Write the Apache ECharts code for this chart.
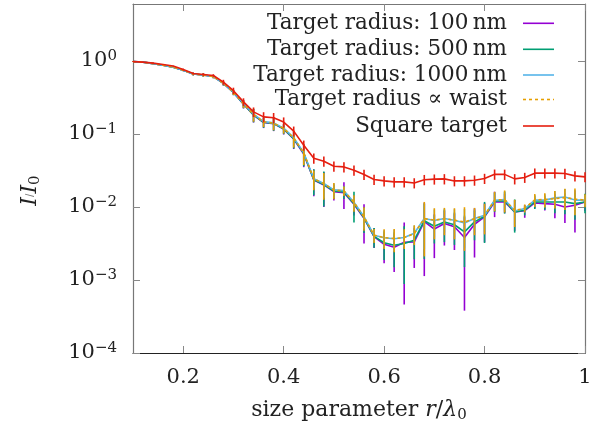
<!DOCTYPE html>
<html>
<head>
<meta charset="utf-8">
<script src="https://cdn.jsdelivr.net/npm/echarts@6/dist/echarts.min.js"></script>
<style>
html, body { margin: 0; padding: 0; background: #fff; }
#chart { width: 601px; height: 433px; }
</style>
</head>
<body>
<div id="chart"></div>
<script>
// size parameter r / lambda0
const sizeParam = [
  0.10, 0.12, 0.14, 0.16, 0.18, 0.20, 0.22, 0.24, 0.26, 0.28,
  0.30, 0.32, 0.34, 0.36, 0.38, 0.40, 0.42, 0.44, 0.46, 0.48,
  0.50, 0.52, 0.54, 0.56, 0.58, 0.60, 0.62, 0.64, 0.66, 0.68,
  0.70, 0.72, 0.74, 0.76, 0.78, 0.80, 0.82, 0.84, 0.86, 0.88,
  0.90, 0.92, 0.94, 0.96, 0.98, 1.00
]

// I / I0 for each target, with its error
const r100 = [
  0.975, 0.96, 0.915, 0.87, 0.82, 0.745, 0.66, 0.64, 0.61, 0.49,
  0.37, 0.255, 0.181, 0.143, 0.138, 0.116, 0.085, 0.053, 0.0233, 0.0200,
  0.0162, 0.0156, 0.0109, 0.0070, 0.00392, 0.00308, 0.00281, 0.00328, 0.00332, 0.00627,
  0.00498, 0.00593, 0.00535, 0.00381, 0.00579, 0.0073, 0.0117, 0.0117, 0.00855, 0.00887,
  0.01135, 0.0111, 0.0109, 0.0100, 0.01055, 0.0117
]
const r100Err = [
  0.010, 0.010, 0.0095, 0.018, 0.017, 0.023, 0.028, 0.034, 0.032, 0.031,
  0.031, 0.032, 0.038, 0.023, 0.029, 0.018, 0.023, 0.018, 0.0093, 0.0100,
  0.0040, 0.0062, 0.0033, 0.00385, 0.00118, 0.00139, 0.00152, 0.00282, 0.00186, 0.00514,
  0.00299, 0.00297, 0.00278, 0.00343, 0.00376, 0.00402, 0.00445, 0.0035, 0.00385, 0.00177,
  0.0018, 0.0022, 0.0039, 0.0040, 0.0061, 0.0029
]
const r500 = [
  0.975, 0.96, 0.915, 0.87, 0.82, 0.745, 0.66, 0.64, 0.61, 0.49,
  0.37, 0.256, 0.182, 0.144, 0.139, 0.117, 0.086, 0.054, 0.0236, 0.0203,
  0.0165, 0.0160, 0.0111, 0.0071, 0.00396, 0.00323, 0.00299, 0.00315, 0.0035, 0.00647,
  0.00544, 0.00623, 0.0057, 0.00455, 0.00623, 0.00746, 0.01216, 0.0121, 0.00855, 0.00901,
  0.0117, 0.0117, 0.0117, 0.0117, 0.0111, 0.0117
]
const r500Err = [
  0.010, 0.010, 0.0095, 0.018, 0.017, 0.023, 0.028, 0.034, 0.032, 0.031,
  0.031, 0.032, 0.038, 0.023, 0.029, 0.018, 0.023, 0.018, 0.0092, 0.0102,
  0.0036, 0.0032, 0.0050, 0.0027, 0.0012, 0.00136, 0.0015, 0.00227, 0.00158, 0.00453,
  0.00228, 0.00293, 0.00268, 0.00305, 0.00274, 0.00425, 0.00365, 0.0040, 0.0041, 0.00135,
  0.00234, 0.00257, 0.0035, 0.00374, 0.00444, 0.0035
]
const r1000 = [
  0.975, 0.96, 0.915, 0.87, 0.82, 0.746, 0.66, 0.64, 0.61, 0.495,
  0.373, 0.261, 0.186, 0.147, 0.1415, 0.120, 0.0887, 0.0553, 0.0243, 0.0209,
  0.0171, 0.0167, 0.0116, 0.00734, 0.00409, 0.00379, 0.00367, 0.00381, 0.00436, 0.00694,
  0.00651, 0.00694, 0.00657, 0.00604, 0.00694, 0.00769, 0.01236, 0.0126, 0.0088, 0.0095,
  0.0124, 0.0124, 0.0133, 0.0137, 0.0124, 0.0124
]
const r1000Err = [
  0.009, 0.009, 0.009, 0.015, 0.015, 0.020, 0.024, 0.029, 0.028, 0.027,
  0.027, 0.028, 0.033, 0.020, 0.025, 0.016, 0.021, 0.016, 0.0066, 0.0075,
  0.0039, 0.0023, 0.0026, 0.0023, 0.0008, 0.0010, 0.0012, 0.0010, 0.0012, 0.0043,
  0.0027, 0.0025, 0.0027, 0.0033, 0.0025, 0.0031, 0.0033, 0.0038, 0.0032, 0.0011,
  0.0022, 0.0025, 0.0031, 0.0039, 0.0046, 0.0022
]
const waist = [
  0.975, 0.96, 0.915, 0.87, 0.82, 0.746, 0.66, 0.64, 0.61, 0.495,
  0.370, 0.258, 0.184, 0.146, 0.140, 0.119, 0.088, 0.055, 0.0242, 0.0208,
  0.0170, 0.0166, 0.0115, 0.0073, 0.0041, 0.0038, 0.0037, 0.0038, 0.0043, 0.0069,
  0.0066, 0.0069, 0.0066, 0.0062, 0.0069, 0.0076, 0.0124, 0.0126, 0.0089, 0.0096,
  0.0125, 0.0126, 0.0130, 0.0134, 0.0128, 0.0124
]
const waistErr = [
  0.0098, 0.0096, 0.0092, 0.017, 0.016, 0.022, 0.026, 0.032, 0.031, 0.030,
  0.030, 0.031, 0.037, 0.022, 0.028, 0.018, 0.023, 0.0176, 0.0073, 0.0083,
  0.0043, 0.0025, 0.0029, 0.0026, 0.0009, 0.00114, 0.0013, 0.00114, 0.0013, 0.0048,
  0.0030, 0.0028, 0.0030, 0.0037, 0.0028, 0.0034, 0.0037, 0.0042, 0.0036, 0.0012,
  0.0025, 0.0028, 0.0035, 0.0043, 0.0051, 0.0025
]
const square = [
  0.975, 0.96, 0.93, 0.89, 0.85, 0.76, 0.67, 0.65, 0.63, 0.51,
  0.39, 0.274, 0.20, 0.171, 0.166, 0.145, 0.109, 0.070, 0.0465, 0.0423,
  0.0361, 0.0353, 0.0318, 0.0278, 0.0237, 0.0227, 0.0220, 0.0220, 0.0213, 0.0236,
  0.0240, 0.0242, 0.0227, 0.0227, 0.0232, 0.0245, 0.0280, 0.0279, 0.0242, 0.0253,
  0.0290, 0.0290, 0.0290, 0.0287, 0.0266, 0.0258
]
const squareErr = [
  0.010, 0.010, 0.009, 0.009, 0.009, 0.023, 0.020, 0.026, 0.025, 0.040,
  0.039, 0.033, 0.030, 0.027, 0.027, 0.023, 0.017, 0.011, 0.0074, 0.0068,
  0.0058, 0.0056, 0.0051, 0.0044, 0.0038, 0.0036, 0.0035, 0.0035, 0.0034, 0.0038,
  0.0038, 0.0039, 0.0036, 0.0036, 0.0037, 0.0039, 0.0045, 0.0045, 0.0039, 0.0040,
  0.0046, 0.0046, 0.0046, 0.0046, 0.0043, 0.0041
]

const seriesNames = [
  'Target radius: 100\u2009nm',
  'Target radius: 500\u2009nm',
  'Target radius: 1000\u2009nm',
  'Target radius \u221d waist',
  'Square target'
]
const xTickValues = [0.2, 0.4, 0.6, 0.8, 1]
const xTickLabels = ['0.2', '0.4', '0.6', '0.8', '1']
const yTickValues = [1e-4, 1e-3, 1e-2, 1e-1, 1]
const yTickExponents = ['\u22124', '\u22123', '\u22122', '\u22121', '0']

const FONT = 'DejaVu Serif'
const TXT = '#222'
const colors = ['#9400d3', '#009e73', '#56b4e9', '#e69f00', '#e51e10']
const dashes = ['solid', 'solid', 'solid', [3, 3], 'solid']
const values = [r100, r500, r1000, waist, square]
const errors = [r100Err, r500Err, r1000Err, waistErr, squareErr]

const chart = echarts.init(document.getElementById('chart'), null, { renderer: 'canvas' })

function errorBar (params, api) {
  const x = api.value(0)
  const v = api.value(1)
  const e = api.value(2)
  const top = api.coord([x, v + e])
  const bot = api.coord([x, Math.max(v - e, 1e-6)])
  const cs = params.coordSys
  return {
    type: 'line',
    shape: { x1: top[0], y1: top[1], x2: bot[0], y2: Math.min(bot[1], cs.y + cs.height) },
    style: { stroke: api.visual('color'), lineWidth: 1.6 }
  }
}

const series = []
values.forEach((vals, k) => {
  series.push({
    type: 'custom',
    renderItem: errorBar,
    data: sizeParam.map((x, i) => [x, vals[i], errors[k][i]]),
    encode: { x: 0, y: 1 },
    itemStyle: { color: colors[k] },
    z: 2 + k * 2,
    silent: true
  })
  series.push({
    type: 'line',
    name: seriesNames[k],
    data: sizeParam.map((x, i) => [x, vals[i]]),
    showSymbol: false,
    symbol: 'none',
    lineStyle: { color: colors[k], width: 1.6, type: dashes[k] },
    z: 3 + k * 2,
    silent: true
  })
})

const legendY = [23.3, 49.3, 75, 99.5, 126]
const graphic = []
seriesNames.forEach((name, k) => {
  graphic.push({
    type: 'text',
    x: 507,
    y: legendY[k],
    style: { text: name, font: '21.5px "' + FONT + '"', fill: TXT, textAlign: 'right', textVerticalAlign: 'middle' },
    z: 100
  })
  graphic.push({
    type: 'line',
    shape: { x1: 523, y1: legendY[k], x2: 554, y2: legendY[k] },
    style: { stroke: colors[k], lineWidth: 1.6, lineDash: k === 3 ? [3, 3] : null },
    z: 100
  })
})

const tickStyle = { color: '#888', width: 1 }

chart.setOption({
  animation: false,
  grid: { left: 133, right: 16, top: 4, bottom: 80 },
  xAxis: [{
    type: 'value',
    min: 0.1,
    max: 1,
    position: 'bottom',
    axisLine: { lineStyle: { color: '#222', width: 1.2 } },
    axisTick: { inside: true, length: 7, customValues: xTickValues, lineStyle: tickStyle },
    axisLabel: {
      customValues: xTickValues,
      formatter: v => xTickLabels[xTickValues.findIndex(t => Math.abs(t - v) < 1e-9)],
      fontFamily: FONT, fontSize: 21, color: TXT, margin: 14
    },
    splitLine: { show: false },
    name: 'size parameter {i|r}/{i|\u03bb}{sub|0}',
    nameLocation: 'middle',
    nameGap: 45,
    nameTextStyle: {
      fontFamily: FONT, fontSize: 22, color: TXT,
      rich: {
        i: { fontFamily: FONT, fontStyle: 'italic', fontSize: 22, color: TXT },
        sub: { fontFamily: FONT, fontSize: 15, color: TXT, verticalAlign: 'top', padding: [10, 0, 0, 0] }
      }
    }
  }, {
    type: 'value',
    min: 0.1,
    max: 1,
    position: 'top',
    axisLine: { lineStyle: { color: '#777', width: 1.2 } },
    axisTick: { inside: true, length: 7, customValues: xTickValues, lineStyle: tickStyle },
    axisLabel: { show: false },
    splitLine: { show: false }
  }],
  yAxis: [{
    type: 'log',
    logBase: 10,
    min: 1e-4,
    max: 6,
    position: 'left',
    axisLine: { show: true, lineStyle: { color: '#777', width: 1.2 } },
    axisTick: { inside: true, length: 7, customValues: yTickValues, lineStyle: tickStyle },
    minorTick: { show: false },
    axisLabel: {
      customValues: yTickValues,
      formatter: v => {
        const idx = yTickValues.findIndex(t => Math.abs(Math.log10(t) - Math.log10(v)) < 1e-6)
        return '{b|10}{s|' + yTickExponents[idx] + '}'
      },
      margin: 16,
      rich: {
        b: { fontFamily: FONT, fontSize: 21, color: TXT },
        s: { fontFamily: FONT, fontSize: 15, color: TXT, verticalAlign: 'bottom', padding: [0, 0, 10, 0] }
      }
    },
    splitLine: { show: false },
    name: '{i|I}/{i|I}{sub|0}',
    nameLocation: 'middle',
    nameRotate: 90,
    nameGap: 90,
    nameTextStyle: {
      padding: [0, 24, 0, 0],
      rich: {
        i: { fontFamily: FONT, fontStyle: 'italic', fontSize: 22, color: TXT },
        sub: { fontFamily: FONT, fontSize: 15, color: TXT, verticalAlign: 'top', padding: [10, 0, 0, 0] }
      }
    }
  }, {
    type: 'log',
    logBase: 10,
    min: 1e-4,
    max: 6,
    position: 'right',
    axisLine: { show: true, lineStyle: { color: '#777', width: 1.2 } },
    axisTick: { inside: true, length: 7, customValues: yTickValues, lineStyle: tickStyle },
    minorTick: { show: false },
    axisLabel: { show: false },
    splitLine: { show: false }
  }],
  series: series,
  graphic: graphic
})
</script>
</body>
</html>
